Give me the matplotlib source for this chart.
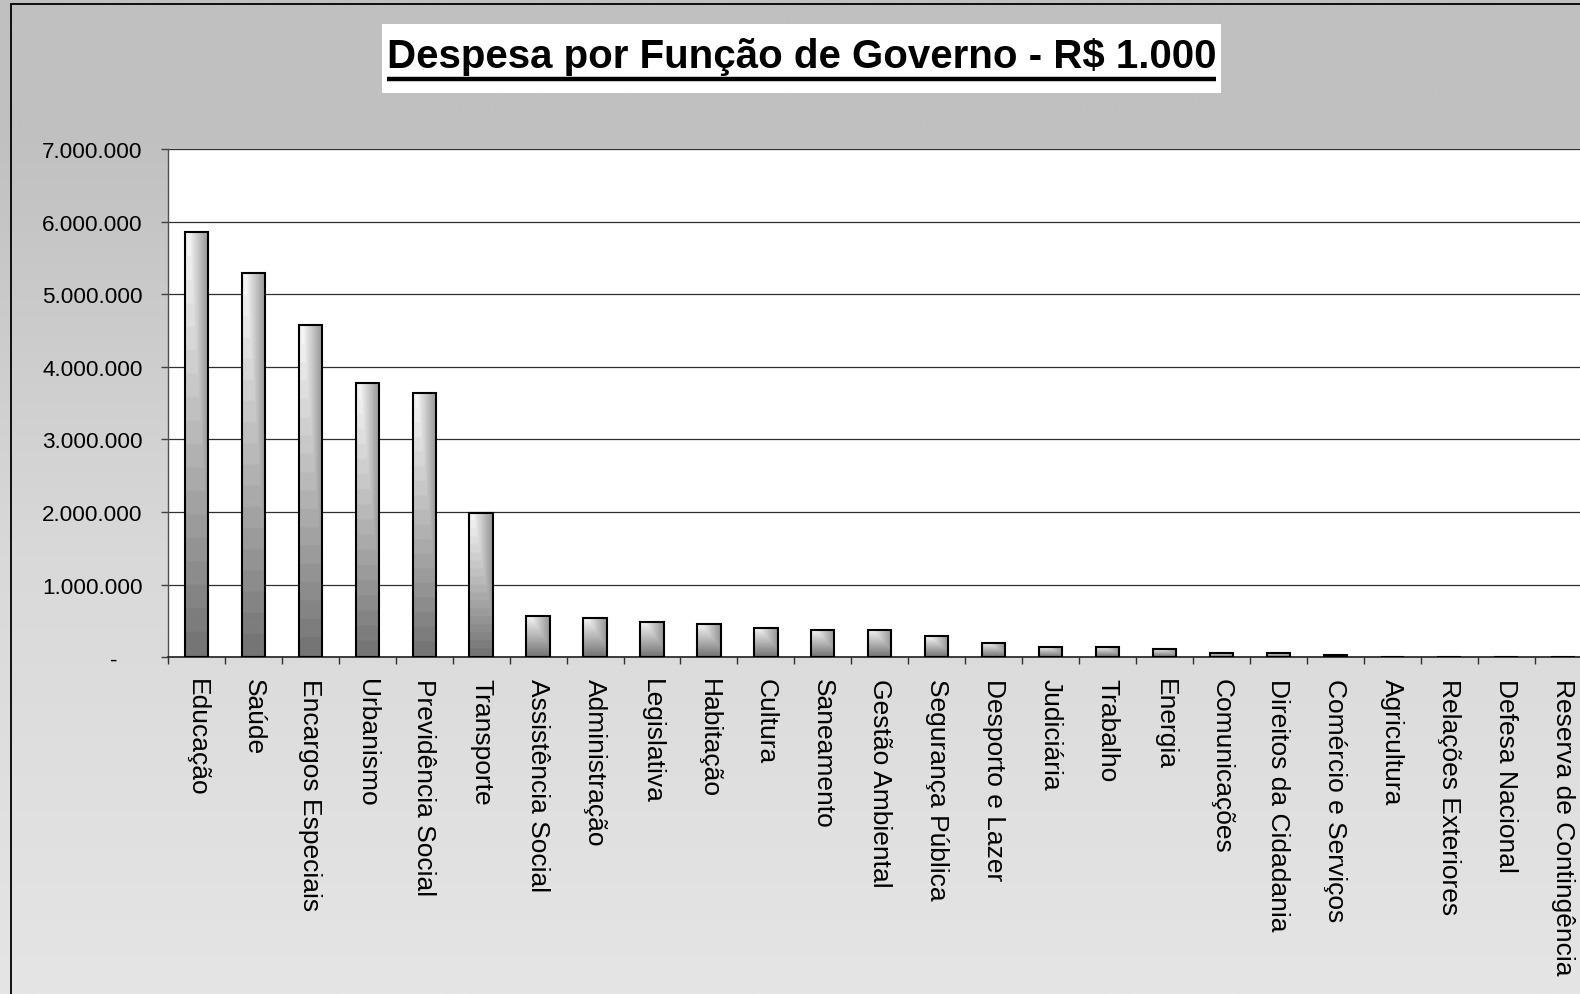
import numpy as np
import matplotlib
matplotlib.use("Agg")
import matplotlib.pyplot as plt
from matplotlib.ticker import FuncFormatter
from matplotlib.patches import Rectangle
from matplotlib.lines import Line2D
import matplotlib.transforms as mtransforms

plt.rcParams['font.family'] = ['Liberation Sans', 'DejaVu Sans']

# ---------------- data ----------------
categories = [
    "Educação", "Saúde", "Encargos Especiais", "Urbanismo", "Previdência Social",
    "Transporte", "Assistência Social", "Administração", "Legislativa", "Habitação",
    "Cultura", "Saneamento", "Gestão Ambiental", "Segurança Pública", "Desporto e Lazer",
    "Judiciária", "Trabalho", "Energia", "Comunicações", "Direitos da Cidadania",
    "Comércio e Serviços", "Agricultura", "Relações Exteriores", "Defesa Nacional",
    "Reserva de Contingência",
]
values = [
    5855000, 5290000, 4581000, 3778000, 3636000,
    1992000, 569000, 541000, 490000, 459000,
    400000, 376000, 376000, 289000, 201000,
    146000, 145000, 114000, 60000, 60000,
    37000, 0, 0, 0, 0,
]
y_ticks = [0, 1000000, 2000000, 3000000, 4000000, 5000000, 6000000, 7000000]
title = "Despesa por Função de Governo - R$ 1.000"

# ---------------- figure ----------------
W, H = 1580, 995
fig = plt.figure(figsize=(W / 100, H / 100), dpi=100)

# background vertical gradient
bg = fig.add_axes([0, 0, 1, 1], zorder=0)
bg.set_axis_off()
t = np.linspace(0, 1, 500)
g = np.interp(t, [0, 0.13, 0.56, 1.0], [192, 192, 217, 229]) / 255.0
bg_img = np.repeat(np.repeat(g[:, None, None], 2, axis=1), 3, axis=2)
bg.imshow(bg_img, aspect='auto', extent=[0, 1, 0, 1], origin='upper')
bg.set_xlim(0, 1)
bg.set_ylim(0, 1)

# outer chart border (left and top visible; rest cropped)
fig.add_artist(Rectangle((11 / W, -0.2), 1.5, 1 - 4.5 / H + 0.2,
                         transform=fig.transFigure, fill=False,
                         ec='black', lw=1.3, zorder=1))

# title box + title
fig.add_artist(Rectangle((382 / W, 1 - 94 / H), (1221 - 382) / W, (94 - 25) / H,
                         transform=fig.transFigure, fc='white', ec='none', zorder=2))
ttl = fig.text(801.5 / W, 1 - 68 / H, title, ha='center', va='baseline',
               fontsize=29, fontweight='bold', zorder=3)

# ---------------- main axes ----------------
ax_left = 168 / W
ax_bottom = (H - 658.3) / H
ax_w = 25 * 56.94 / W
ax_h = (658.3 - 150) / H
ax = fig.add_axes([ax_left, ax_bottom, ax_w, ax_h], zorder=2)
ax.set_facecolor('white')

x = np.arange(len(categories))
bars = ax.bar(x, values, width=0.41, facecolor='none', edgecolor='black',
              linewidth=1.5, zorder=3)

# per-bar "from corner" gradient fill (banded like the original)
ny, nx = 200, 60
yy, xx = np.mgrid[0:1:ny * 1j, 0:1:nx * 1j]
xp = np.abs(xx - 0.15) / 0.85
v = np.maximum(0.75 * xp, yy)
v = np.floor(v * 18) / 18
shade = (245 - 135 * v) / 255.0
grad = np.dstack([shade, shade, shade])
for b in bars:
    x0, w, h = b.get_x(), b.get_width(), b.get_height()
    if h <= 0:
        continue
    im = ax.imshow(grad, extent=[x0, x0 + w, 0, h], origin='upper',
                   aspect='auto', interpolation='bilinear', zorder=2)
    im.set_clip_path(b)

ax.set_xlim(-0.5, len(categories) - 0.5)
ax.set_ylim(0, 7000000)

# y axis
ax.set_yticks(y_ticks)
ax.yaxis.set_major_formatter(FuncFormatter(
    lambda val, pos: '-' if val == 0 else f"{int(round(val)):,}".replace(',', '.')))
ax.tick_params(axis='y', length=4.7, width=1, color='#404040', pad=13.5,
               labelsize=16.2, labelcolor='black', direction='out')
ax.yaxis.grid(True, color='#303030', linewidth=0.9)
ax.set_axisbelow(True)

# x axis
ax.set_xticks(x)
ax.set_xticklabels(categories, rotation=270, fontsize=19, va='top', ha='center')
ax.tick_params(axis='x', which='major', length=0, pad=15)
ax.set_xticks(np.arange(-0.5, len(categories), 1.0), minor=True)
ax.tick_params(axis='x', which='minor', length=5, width=1, color='#303030',
               direction='out')

for s in ['top', 'right']:
    ax.spines[s].set_visible(False)
ax.spines['left'].set_color('#505050')
ax.spines['left'].set_linewidth(1.0)
ax.spines['bottom'].set_color('#202020')
ax.spines['bottom'].set_linewidth(1.2)

# shift the "-" zero label left (accounting-style format)
zero_tick = ax.yaxis.get_major_ticks()[0]
zero_tick.label1.set_transform(zero_tick.label1.get_transform() +
                               mtransforms.ScaledTranslation(-18 / 72, 0, fig.dpi_scale_trans))

# underline the title
fig.canvas.draw()
bb = ttl.get_window_extent()
fig.add_artist(Line2D([bb.x0 / W, bb.x1 / W], [1 - 79.5 / H, 1 - 79.5 / H],
                      transform=fig.transFigure, color='black', lw=3.2,
                      solid_capstyle='butt', zorder=3))

fig.savefig("out.png", dpi=100)
